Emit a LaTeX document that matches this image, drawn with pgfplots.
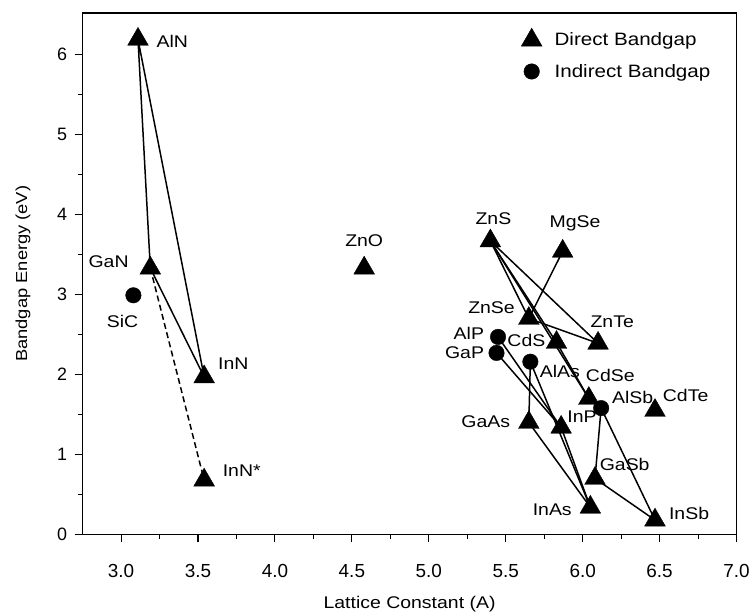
\documentclass[border=0pt]{standalone}
\usepackage{pgfplots}
\pgfplotsset{compat=1.18}
\usepackage{fontspec}
\setmainfont{Liberation Sans}
\newfontfamily\labfont{Liberation Sans}[FakeStretch=1.15]
\begin{document}
\begin{tikzpicture}
\begin{axis}[name=ax, scale only axis, width=657pt, height=524pt,
  xmin=2.75, xmax=7.0, ymin=0, ymax=6.52,
  xtick={3,3.5,...,7}, ytick={0,1,...,6},
  minor x tick num=1, minor y tick num=1,
  tick align=outside, tick pos=left,
  major tick length=8pt, minor tick length=4.5pt,
  every tick/.style={black, line width=1.1pt},
  axis line style={line width=1.6pt},
  /pgf/number format/assume math mode=true,
  xticklabel style={font=\fontsize{19}{21}\selectfont, anchor=base, yshift=-35pt, /pgf/number format/.cd, fixed, fixed zerofill, precision=1},
  yticklabel style={font=\fontsize{18}{20}\selectfont, anchor=east, xshift=-4pt},
  xlabel={Lattice Constant (A)}, ylabel={Bandgap Energy (eV)},
  xlabel style={font=\labfont\fontsize{17}{20}\selectfont, at={(axis description cs:0.5,0)}, anchor=base, yshift=-74pt},
  ylabel style={font=\labfont\fontsize{16}{18}\selectfont, at={(axis description cs:0,0.5)}, anchor=center, yshift=60pt},
  legend style={draw=none, fill=none, at={(0.6636,0.975)}, anchor=north west,
    font=\labfont\fontsize{18}{21}\selectfont, row sep=13pt},
  legend image code/.code={\path[draw=none,fill=none] (0pt,-6pt) rectangle (33pt,6pt); \draw[#1] plot coordinates {(12pt,0pt)};},
  legend cell align=left,
  clip=false]
% connecting lines
\addplot[black, line width=1.5pt, forget plot] coordinates {(3.11,6.19) (3.19,3.33) (3.54,1.97) (3.11,6.19)};
\addplot[black, line width=1.5pt, dash pattern=on 6pt off 3.5pt, forget plot] coordinates {(3.19,3.33) (3.54,0.68)};
\addplot[black, line width=1.5pt, forget plot] coordinates {(5.87,3.54) (5.65,2.70) (6.10,2.39) (5.40,3.67) (5.65,2.70)};
\addplot[black, line width=1.5pt, forget plot] coordinates {(5.40,3.67) (5.83,2.40) (6.04,1.70)};
\addplot[black, line width=1.5pt, forget plot] coordinates {(5.40,3.67) (6.04,1.70)};
\addplot[black, line width=1.5pt, forget plot] coordinates {(5.45,2.47) (5.86,1.34) (5.44,2.27)};
\addplot[black, line width=1.5pt, forget plot] coordinates {(5.66,2.16) (5.65,1.40) (6.05,0.34) (5.66,2.16)};
\addplot[black, line width=1.5pt, forget plot] coordinates {(5.86,1.34) (6.05,0.34)};
\addplot[black, line width=1.5pt, forget plot] coordinates {(6.12,1.58) (6.08,0.70) (6.47,0.18) (6.12,1.58)};
% direct bandgap
\addplot[only marks, mark=triangle*, mark size=12pt, black] coordinates {
 (3.11,6.19) (3.19,3.33) (3.54,1.97) (3.54,0.68) (4.58,3.33)
 (5.40,3.67) (5.87,3.54) (5.65,2.70) (6.10,2.39) (5.83,2.40)
 (6.04,1.70) (6.47,1.55) (5.65,1.40) (5.86,1.34) (6.08,0.70)
 (6.05,0.34) (6.47,0.18)};
\addlegendentry{Direct Bandgap}
% indirect bandgap
\addplot[only marks, mark=*, mark size=7.8pt, black] coordinates {
 (3.08,2.99) (5.45,2.47) (5.44,2.27) (5.66,2.16) (6.12,1.58)};
\addlegendentry{Indirect Bandgap}
% labels
\begin{scope}[every node/.style={font=\labfont\fontsize{17}{19}\selectfont, inner sep=0pt}]
\node[anchor=west] at (axis cs:3.23,6.16) {AlN};
\node[anchor=east] at (axis cs:3.05,3.41) {GaN};
\node at (axis cs:3.01,2.66) {SiC};
\node[anchor=west] at (axis cs:3.63,2.14) {InN};
\node[anchor=west] at (axis cs:3.66,0.80) {InN*};
\node at (axis cs:4.58,3.67) {ZnO};
\node at (axis cs:5.42,3.95) {ZnS};
\node at (axis cs:5.95,3.89) {MgSe};
\node[anchor=east] at (axis cs:5.56,2.84) {ZnSe};
\node[anchor=west] at (axis cs:6.05,2.66) {ZnTe};
\node[anchor=east] at (axis cs:5.36,2.52) {AlP};
\node[anchor=east] at (axis cs:5.36,2.27) {GaP};
\node[anchor=west] at (axis cs:5.51,2.43) {CdS};
\node[anchor=west] at (axis cs:5.72,2.04) {AlAs};
\node[anchor=west] at (axis cs:6.02,1.99) {CdSe};
\node[anchor=west] at (axis cs:6.19,1.71) {AlSb};
\node[anchor=west] at (axis cs:6.52,1.74) {CdTe};
\node[anchor=east] at (axis cs:5.53,1.41) {GaAs};
\node[anchor=west] at (axis cs:5.90,1.47) {InP};
\node[anchor=west] at (axis cs:6.11,0.87) {GaSb};
\node[anchor=east] at (axis cs:5.93,0.31) {InAs};
\node[anchor=west] at (axis cs:6.56,0.26) {InSb};
\end{scope}
\end{axis}
\path ([xshift=-83pt,yshift=-78pt]ax.south west) rectangle ([xshift=13pt,yshift=13pt]ax.north east);
\end{tikzpicture}
\end{document}
